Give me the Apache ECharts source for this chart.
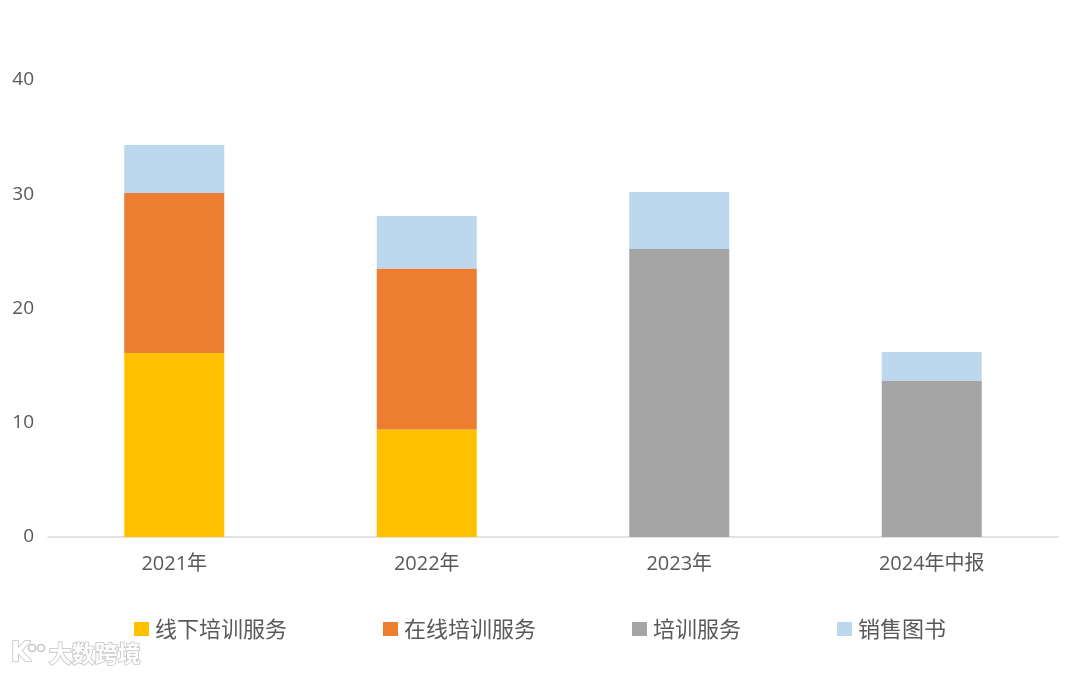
<!DOCTYPE html>
<html>
<head>
<meta charset="utf-8">
<script src="https://cdn.jsdelivr.net/npm/echarts@6/dist/echarts.min.js"></script>
<style>
html,body{margin:0;padding:0;background:#fff;}
#chart{width:1080px;height:675px;}
</style>
</head>
<body>
<div id="chart"></div>
<script>
var categories = ['2021年', '2022年', '2023年', '2024年中报'];
var offlineTraining = [16.1, 9.4, '-', '-'];
var onlineTraining = [14.0, 14.1, '-', '-'];
var trainingService = ['-', '-', 25.2, 13.7];
var bookSales = [4.2, 4.6, 5.0, 2.5];
var yTicks = [0, 10, 20, 30, 40];

var FONT = '"Open Sans", "Noto Sans CJK SC", sans-serif';
var chart = echarts.init(document.getElementById('chart'), null, {renderer: 'canvas'});

function bar(name, data, color) {
  return {
    name: name,
    type: 'bar',
    stack: 'total',
    data: data,
    barWidth: 100,
    itemStyle: {color: color},
    emphasis: {disabled: true}
  };
}

var wmStyle = {fill: '#ffffff', stroke: '#c4c4c4', lineWidth: 1.6};

chart.setOption({
  backgroundColor: '#ffffff',
  animation: false,
  textStyle: {fontFamily: FONT},
  grid: {left: 48, right: 22, top: 80, bottom: 138, containLabel: false},
  legend: {
    bottom: 30,
    left: 'center',
    itemWidth: 15,
    itemHeight: 14,
    itemGap: 96,
    icon: 'rect',
    textStyle: {fontSize: 22, color: '#595959', fontFamily: '"Noto Sans CJK SC", sans-serif', padding: [0, 0, 0, 1]},
    data: ['线下培训服务', '在线培训服务', '培训服务', '销售图书']
  },
  xAxis: {
    type: 'category',
    data: categories,
    axisLine: {show: true, lineStyle: {color: '#d9d9d9', width: 1.5}},
    axisTick: {show: false},
    axisLabel: {fontSize: 20, color: '#595959', margin: 17, fontFamily: FONT},
    splitLine: {show: false}
  },
  yAxis: {
    type: 'value',
    min: yTicks[0],
    max: yTicks[yTicks.length - 1],
    interval: 10,
    axisLine: {show: false},
    axisTick: {show: false},
    splitLine: {show: false},
    axisLabel: {fontSize: 19, color: '#595959', margin: 14, fontFamily: FONT}
  },
  series: [
    bar('线下培训服务', offlineTraining, '#FFC000'),
    bar('在线培训服务', onlineTraining, '#ED7D31'),
    bar('培训服务', trainingService, '#A5A5A5'),
    bar('销售图书', bookSales, '#BDD7EE')
  ],
  graphic: [
    {type: 'text', left: 10, top: 640, style: Object.assign({text: 'K', font: 'bold 26px "DejaVu Sans", sans-serif'}, wmStyle)},
    {type: 'circle', shape: {cx: 32, cy: 648, r: 3.5}, style: wmStyle},
    {type: 'circle', shape: {cx: 41, cy: 648, r: 3.5}, style: wmStyle},
    {type: 'text', left: 48, top: 641, style: Object.assign({text: '大数跨境', font: 'bold 23px "Noto Sans CJK SC", sans-serif'}, wmStyle)}
  ]
});
</script>
</body>
</html>
